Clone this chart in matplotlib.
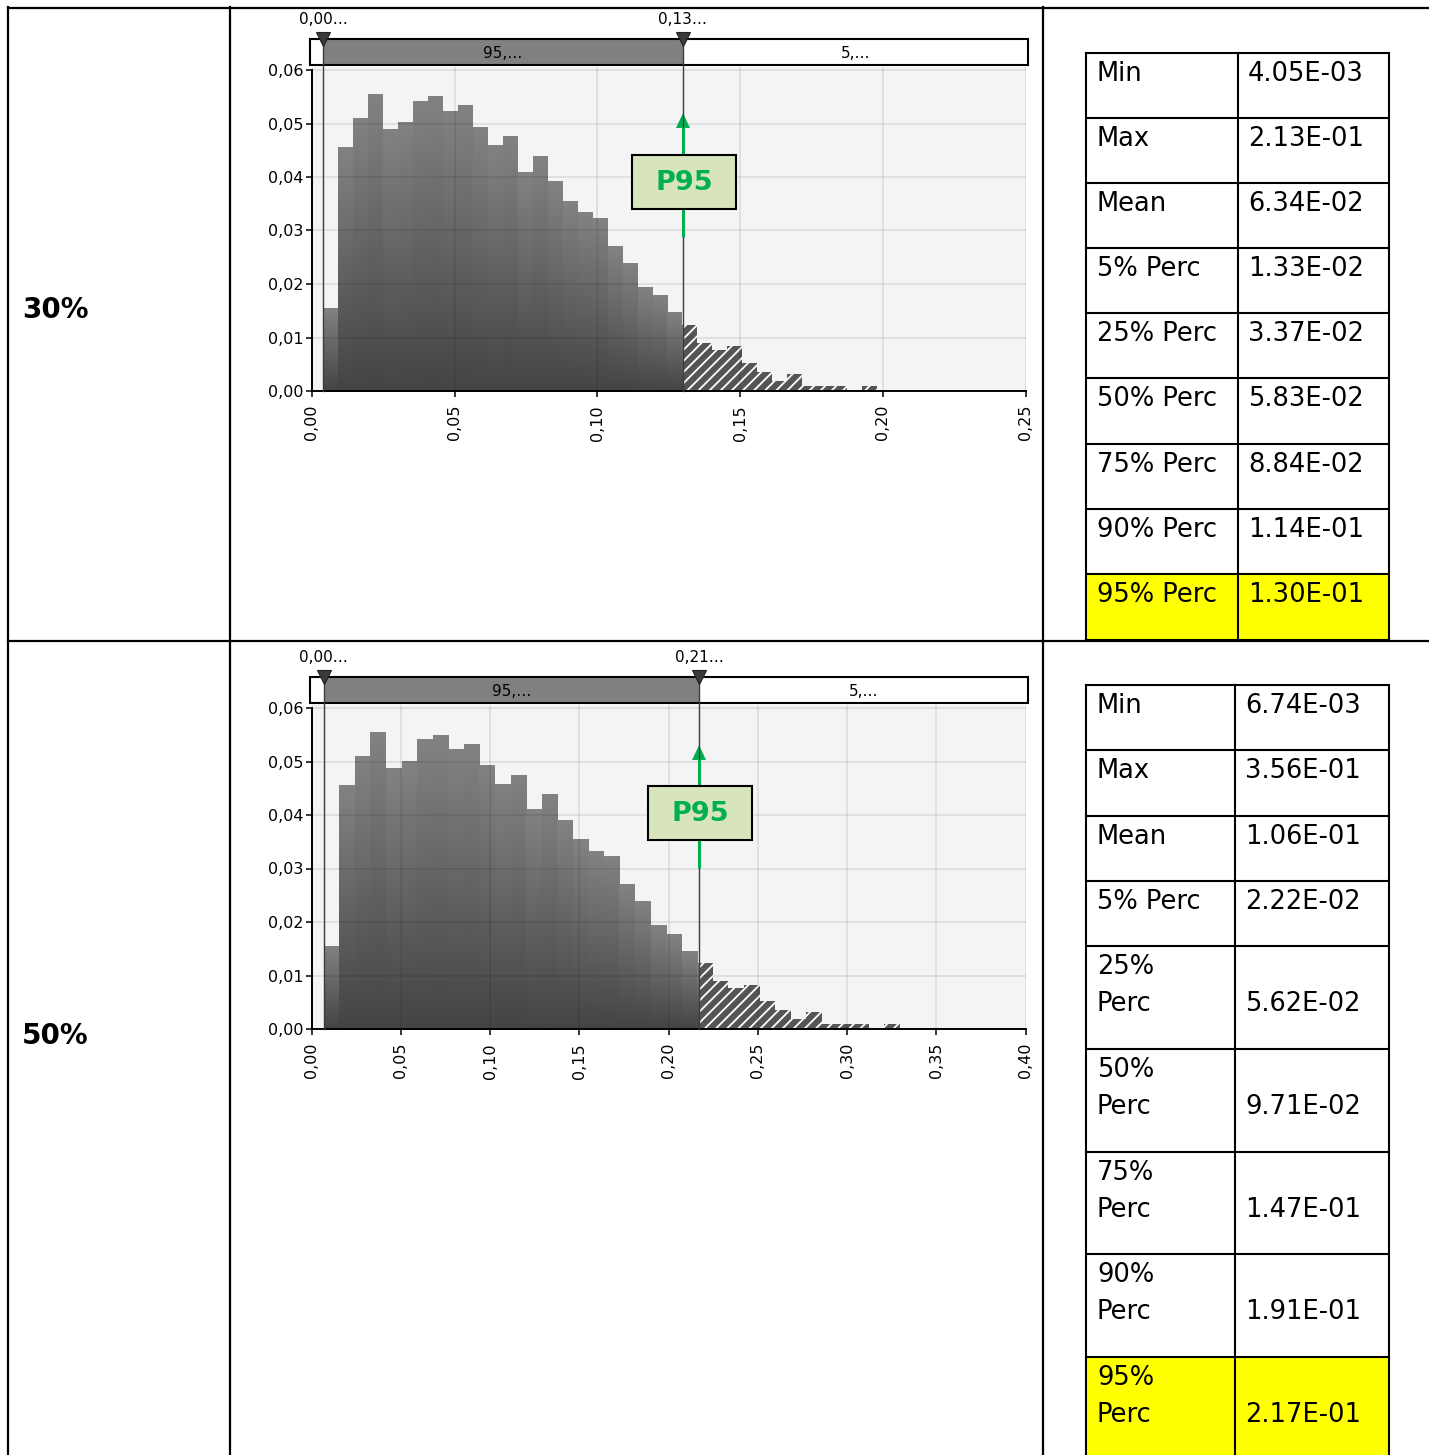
import math
import numpy as np
import matplotlib
matplotlib.use("Agg")
import matplotlib.pyplot as plt
from matplotlib.patches import Rectangle, Polygon
from matplotlib.colors import LinearSegmentedColormap
from matplotlib.ticker import FuncFormatter, MultipleLocator

# ---------------- data ----------------
row_labels = ["30%", "50%"]

stat_names_30 = ["Min", "Max", "Mean", "5% Perc", "25% Perc", "50% Perc",
                 "75% Perc", "90% Perc", "95% Perc"]
stat_names_50 = ["Min", "Max", "Mean", "5% Perc", "25%\nPerc", "50%\nPerc",
                 "75%\nPerc", "90%\nPerc", "95%\nPerc"]
stats_30 = [4.05e-3, 2.13e-1, 6.34e-2, 1.33e-2, 3.37e-2, 5.83e-2, 8.84e-2, 1.14e-1, 1.30e-1]
stats_50 = [6.74e-3, 3.56e-1, 1.06e-1, 2.22e-2, 5.62e-2, 9.71e-2, 1.47e-1, 1.91e-1, 2.17e-1]

# relative frequency of each histogram bin (bins start at Min)
freq_30 = [0.0155, 0.0456, 0.0510, 0.0555, 0.0488, 0.0501, 0.0542, 0.0550, 0.0523,
           0.0533, 0.0493, 0.0458, 0.0475, 0.0409, 0.0439, 0.0391, 0.0355, 0.0333,
           0.0323, 0.0271, 0.0239, 0.0194, 0.0178, 0.0146, 0.0123, 0.0090, 0.0077,
           0.0084, 0.0052, 0.0036, 0.0019, 0.0032, 0.0009, 0.0009, 0.0009, 0.0, 0.0009]
freq_50 = [0.0155, 0.0455, 0.0509, 0.0554, 0.0487, 0.0500, 0.0541, 0.0548, 0.0522,
           0.0532, 0.0492, 0.0457, 0.0474, 0.0410, 0.0438, 0.0390, 0.0354, 0.0331,
           0.0322, 0.0270, 0.0238, 0.0193, 0.0177, 0.0145, 0.0123, 0.0089, 0.0076,
           0.0083, 0.0052, 0.0035, 0.0018, 0.0031, 0.0009, 0.0009, 0.0009, 0.0, 0.0009]
bin_width_30 = 0.00524
bin_width_50 = 0.00872
x_max_30 = 0.25
x_max_50 = 0.40
band_labels = ["95,…", "5,…"]
marker_label = "P95"

# ---------------- layout (pixels) ----------------
W, H = 1429, 1455
X0, X1 = 311.7, 1025.7          # histogram x extent
BASE, TOP, Y06 = 391.0, 67.0, 70.0
GREEN = "#00b050"

fig = plt.figure(figsize=(W / 100, H / 100), dpi=100)
plt.rcParams["hatch.linewidth"] = 1.3

ov = fig.add_axes([0, 0, 1, 1], zorder=10)
ov.set_xlim(0, W)
ov.set_ylim(H, 0)
ov.axis("off")

grad = np.linspace(0, 1, 128)[:, None]
cmap = LinearSegmentedColormap.from_list("g", ["#444444", "#828282"])
comma = FuncFormatter(lambda v, p: f"{v:.2f}".replace(".", ","))


def trunc_label(v):
    return f"{math.floor(v * 100 + 1e-9) / 100:.2f}".replace(".", ",") + "…"


def panel(dy, freq, bw, stats, names, xmax, ann, cols, row_tops, label, label_y):
    vmin, p95 = stats[0], stats[-1]
    ax = fig.add_axes([X0 / W, 1 - (BASE + dy) / H, (X1 - X0) / W, (BASE - TOP) / H], zorder=1)
    ax.set_facecolor("#f4f4f4")
    for i, h in enumerate(freq):
        a = vmin + i * bw
        b = a + bw
        if h <= 0:
            continue
        if a < p95:
            ax.imshow(grad, extent=[a, min(b, p95), 0, h], origin="lower", aspect="auto",
                      cmap=cmap, vmin=0, vmax=1, interpolation="bilinear", zorder=1)
        if b > p95:
            s = max(a, p95)
            ax.add_patch(Rectangle((s, 0), b - s, h, facecolor="#555555", edgecolor="white",
                                   hatch="///", linewidth=0, zorder=1))
    ax.set_xlim(0, xmax)
    ax.set_ylim(0, 0.06 * (BASE - TOP) / (BASE - Y06))
    ax.xaxis.set_major_locator(MultipleLocator(0.05))
    ax.yaxis.set_major_locator(MultipleLocator(0.01))
    ax.xaxis.set_major_formatter(comma)
    ax.yaxis.set_major_formatter(comma)
    ax.grid(True, color="black", alpha=0.1, lw=1.1)
    ax.set_axisbelow(False)
    for s in ("top", "right"):
        ax.spines[s].set_visible(False)
    for s in ("left", "bottom"):
        ax.spines[s].set_linewidth(1.4)
    ax.spines["left"].set_bounds(0, 0.06)
    ax.tick_params(axis="both", direction="out", length=4, width=1.1, labelsize=11.5)
    ax.tick_params(axis="y", pad=2)
    ax.tick_params(axis="x", pad=6, labelrotation=90)

    xm = ax.transData.transform((vmin, 0))[0]
    xp = ax.transData.transform((p95, 0))[0]

    # percentile band
    bt = 39 + dy
    ov.add_patch(Rectangle((X0 - 2, bt), X1 - X0 + 4, 26, facecolor="white", edgecolor="none"))
    ov.add_patch(Rectangle((xm, bt), xp - xm, 26, facecolor="#808080", edgecolor="none"))
    ov.add_patch(Rectangle((X0 - 2, bt), X1 - X0 + 4, 26, facecolor="none", edgecolor="black", lw=1.5))
    ov.text((xm + xp) / 2, bt + 14, band_labels[0], ha="center", va="center", fontsize=11)
    ov.text((xp + X1 + 2) / 2, bt + 14, band_labels[1], ha="center", va="center", fontsize=11)
    for x, v in ((xm, vmin), (xp, p95)):
        ov.plot([x, x], [bt, BASE + dy], color="#3c3c3c", lw=1.0)
        ov.plot([x], [bt - 0.5], marker="v", ms=10, color="#3a3a3a", mec="#222222", mew=0.8)
        ov.text(x, bt - 20, trunc_label(v), ha="center", va="center", fontsize=11)

    # P95 annotation
    tip, box_top, box_bot, line_bot = ann
    ov.plot([xp, xp], [tip + 14, line_bot], color=GREEN, lw=2.2, solid_capstyle="butt")
    ov.add_patch(Polygon([(xp - 7, tip + 15), (xp + 7, tip + 15), (xp, tip)], closed=True,
                         facecolor=GREEN, edgecolor="none"))
    ov.add_patch(Rectangle((xp - 51, box_top), 104, box_bot - box_top, facecolor="#d8e4bc",
                           edgecolor="black", lw=1.5, zorder=3))
    ov.text(xp + 1, (box_top + box_bot) / 2 + 1, marker_label, ha="center", va="center",
            fontsize=19.5, fontweight="bold", color=GREEN, zorder=4)

    # statistics table
    n = len(names)
    ov.add_patch(Rectangle((cols[0], row_tops[n - 1]), cols[2] - cols[0],
                           row_tops[n] - row_tops[n - 1], facecolor="#ffff00", edgecolor="none"))
    for y in row_tops:
        ov.plot([cols[0], cols[2]], [y, y], color="black", lw=1.5)
    for x in cols:
        ov.plot([x, x], [row_tops[0], row_tops[-1]], color="black", lw=1.5)
    for i, (nm, v) in enumerate(zip(names, stats)):
        top = row_tops[i]
        lines = nm.split("\n")
        for k, ln in enumerate(lines):
            ov.text(cols[0] + 11, top + 28 + 37 * k, ln, ha="left", va="baseline", fontsize=18.5)
        ov.text(cols[1] + 10, top + 28 + 37 * (len(lines) - 1), f"{v:.2E}", ha="left",
                va="baseline", fontsize=18.5)

    ov.text(22, label_y, label, ha="left", va="center", fontsize=20, fontweight="bold")


panel(0, freq_30, bin_width_30, stats_30, stat_names_30, x_max_30,
      (113, 155, 209, 237), [1086, 1238, 1389],
      [53, 118, 183, 248, 313, 378, 444, 509, 574, 640], row_labels[0], 310)
panel(638, freq_50, bin_width_50, stats_50, stat_names_50, x_max_50,
      (745, 786, 840, 868), [1086, 1235, 1389],
      [685, 750, 816, 881, 946, 1049, 1152, 1254, 1357, 1462], row_labels[1], 1036)

# outer layout frame
LW = 1.6
ov.plot([8, W], [7.5, 7.5], color="black", lw=LW)
ov.plot([8, W], [641, 641], color="black", lw=LW)
for x in (8, 230, 1043):
    ov.plot([x, x], [7, H + 5], color="black", lw=LW)

fig.savefig("out.png", dpi=100)
